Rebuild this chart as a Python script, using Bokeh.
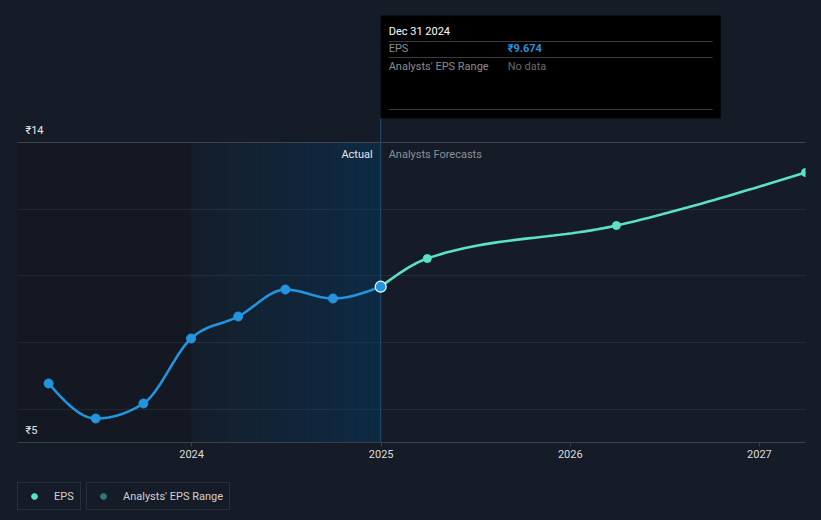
import numpy as np
import pandas as pd
from bokeh.plotting import figure
from bokeh.models import Range1d, FixedTicker, DatetimeTickFormatter, Legend, LegendItem, Span
from bokeh.core.properties import value
from bokeh.embed import file_html
from bokeh.resources import INLINE

# ---------------- data ----------------
actual_dates = ["2023-03-31", "2023-06-30", "2023-09-30", "2023-12-31",
                "2024-03-31", "2024-06-30", "2024-09-30", "2024-12-31"]
actual_eps = [6.77, 5.72, 6.17, 8.12, 8.78, 9.59, 9.32, 9.674]
forecast_dates = ["2024-12-31", "2025-03-31", "2026-03-31", "2027-03-31"]
forecast_eps = [9.674, 10.52, 11.51, 13.10]
year_ticks = ["2024-01-01", "2025-01-01", "2026-01-01", "2027-01-01"]
grid_values = [6, 8, 10, 12, 14]
y_label_texts = ["₹14", "₹5"]
tooltip_date = "Dec 31 2024"
tooltip_rows = ["EPS", "Analysts' EPS Range"]
tooltip_vals = ["₹9.674", "No data"]

BG = "#161c27"
BLUE = "#2394df"
TEAL = "#5ae1c6"
FONT = "Roboto"

def ms(d):
    return pd.Timestamp(d).value / 1e6

ax = np.array([ms(d) for d in actual_dates])
fx = np.array([ms(d) for d in forecast_dates])

W, H = 821, 520
FL, FR = 17, 805
x_start = ms("2023-01-30")
x_end = ms("2027-03-31")
px = (x_end - x_start) / (FR - FL)

# page pixel -> data y (5 at y=442, 14 at y=142 in the page)
y_per_px = 9 / 300.0
def py2y(py):
    return 14 + (142 - py) * y_per_px
y_top = py2y(0)
y_bot = py2y(H)


def monotone(xs, ys, n=30):
    xs = np.asarray(xs, float)
    ys = np.asarray(ys, float)
    x0 = xs[0]
    X = (xs - x0) / 8.64e7
    h = np.diff(X)
    s = np.diff(ys) / h
    m = np.zeros_like(X)
    for i in range(1, len(X) - 1):
        s0, s1 = s[i - 1], s[i]
        p_ = (s0 * h[i] + s1 * h[i - 1]) / (h[i - 1] + h[i])
        m[i] = (np.sign(s0) + np.sign(s1)) * min(abs(s0), abs(s1), 0.5 * abs(p_))
    if len(X) > 2:
        m[0] = (3 * s[0] - m[1]) / 2
        m[-1] = (3 * s[-1] - m[-2]) / 2
    else:
        m[0] = m[-1] = s[0]
    outx, outy = [], []
    for i in range(len(X) - 1):
        t = np.linspace(0, 1, n, endpoint=(i == len(X) - 2))
        h00 = 2 * t**3 - 3 * t**2 + 1
        h10 = t**3 - 2 * t**2 + t
        h01 = -2 * t**3 + 3 * t**2
        h11 = t**3 - t**2
        yy = h00 * ys[i] + h10 * h[i] * m[i] + h01 * ys[i + 1] + h11 * h[i] * m[i + 1]
        xx = X[i] + t * h[i]
        outx.extend(xx * 8.64e7 + x0)
        outy.extend(yy)
    return outx, outy


p = figure(width=W, height=H, x_axis_type="datetime",
           x_range=Range1d(x_start, x_end), y_range=Range1d(y_bot, y_top),
           output_backend="svg", toolbar_location=None,
           min_border_left=FL, min_border_right=W - FR, min_border_top=0, min_border_bottom=0)
p.background_fill_color = BG
p.border_fill_color = BG
p.outline_line_color = None

# axes
p.yaxis.visible = False
p.xaxis.fixed_location = 5
p.xaxis.ticker = FixedTicker(ticks=[ms(d) for d in year_ticks])
p.xaxis.formatter = DatetimeTickFormatter(years="%Y", months="%Y", days="%Y", hours="%Y",
                                          minutes="%Y", seconds="%Y", milliseconds="%Y")
p.xaxis.axis_line_color = "#3a404a"
p.xaxis.major_tick_line_color = "#3a404a"
p.xaxis.major_tick_in = 0
p.xaxis.major_tick_out = 4
p.xaxis.minor_tick_line_color = None
p.xaxis.major_label_text_color = "#dcdcdc"
p.xaxis.major_label_text_font = FONT
p.xaxis.major_label_text_font_size = "11px"
p.xaxis.major_label_standoff = 3

p.xgrid.visible = False
p.ygrid.ticker = FixedTicker(ticks=grid_values)
p.ygrid.grid_line_color = "#272d38"
p.ygrid.grid_line_width = 1
p.add_layout(Span(location=14, dimension="width", line_color="#3e444e", line_width=1))

# shaded regions
anchor = ax[-1]
one_year_before = ax[3]
p.quad(left=x_start, right=one_year_before, bottom=5, top=14,
       fill_color="#000000", fill_alpha=0.12, line_color=None)
n = 30
edges = np.linspace(one_year_before, anchor, n + 1)
alphas = np.linspace(0.06, 0.36, n)
p.quad(left=edges[:-1], right=edges[1:], bottom=5, top=14,
       fill_color="#004678", fill_alpha=alphas, line_color=None)

# vertical marker line
p.segment(x0=anchor, x1=anchor, y0=5, y1=py2y(118), line_color="#1f4e72", line_width=1)

# curves
cx, cy = monotone(ax, actual_eps)
p.line(cx, cy, line_color=BLUE, line_width=2.6)
fxs, fys = monotone(fx, forecast_eps)
p.line(fxs, fys, line_color=TEAL, line_width=2.6)
p.scatter(ax[:-1], actual_eps[:-1], size=9, color=BLUE)
p.scatter(fx[1:], forecast_eps[1:], size=8, color=TEAL)
p.scatter([anchor], [actual_eps[-1]], size=11, fill_color=BLUE, line_color="#ffffff", line_width=1.2)

# actual / forecast labels
p.text(x=[anchor], y=[py2y(154)], text=["Actual"], x_offset=-8,
       text_align="right", text_baseline="middle", text_color="#e6e6e6",
       text_font=value(FONT), text_font_size="11px")
p.text(x=[anchor], y=[py2y(154)], text=["Analysts Forecasts"], x_offset=8,
       text_align="left", text_baseline="middle", text_color="#8a9099",
       text_font=value(FONT), text_font_size="11px")

# y labels
p.text(x=[x_start] * 2, y=[py2y(130), py2y(430)], text=y_label_texts, x_offset=8,
       text_align="left", text_baseline="middle", text_color="#e6e6e6",
       text_font=value(FONT), text_font_size="11px")

# tooltip
p.quad(left=anchor, right=anchor + 340 * px, bottom=py2y(118), top=py2y(15),
       fill_color="#000000", line_color=None)
sep_y = [py2y(41), py2y(57), py2y(109)]
p.segment(x0=[anchor + 8 * px] * 3, x1=[anchor + 332 * px] * 3, y0=sep_y, y1=sep_y,
          line_color="#3a3a3a", line_width=1)
p.text(x=[anchor], y=[py2y(31)], text=[tooltip_date], x_offset=8,
       text_align="left", text_baseline="middle", text_color="#ffffff",
       text_font=value(FONT), text_font_size="11px")
p.text(x=[anchor] * 2, y=[py2y(48), py2y(66)], text=tooltip_rows, x_offset=8,
       text_align="left", text_baseline="middle", text_color="#8c8c8c",
       text_font=value(FONT), text_font_size="11px")
p.text(x=[anchor], y=[py2y(48)], text=[tooltip_vals[0]], x_offset=127,
       text_align="left", text_baseline="middle", text_color=BLUE,
       text_font=value(FONT), text_font_size="11px", text_font_style="bold")
p.text(x=[anchor], y=[py2y(66)], text=[tooltip_vals[1]], x_offset=127,
       text_align="left", text_baseline="middle", text_color="#6a6a6a",
       text_font=value(FONT), text_font_size="11px")

# legends (legend-only renderers, placed outside the visible range)
off = [x_start - 1e12]
lb = p.scatter(x=off, y=[10], size=14, color=BLUE)
lt = p.scatter(x=off, y=[10], size=14, color=TEAL)
rb = p.scatter(x=off, y=[10], size=14, color="#1d5a8a")
rt = p.scatter(x=off, y=[10], size=14, color="#337777")

def mk_legend(label, rends, loc):
    return Legend(items=[LegendItem(label=label, renderers=rends)], location=loc,
                  orientation="horizontal", padding=6, margin=0,
                  glyph_width=20, glyph_height=14, label_height=14, label_standoff=10,
                  label_text_font=FONT, label_text_font_size="11px", label_text_color="#d0d0d0",
                  background_fill_color=BG, background_fill_alpha=1,
                  border_line_color="#3c424c", border_line_width=1)

p.add_layout(mk_legend("EPS", [lb, lt], (0, 10)))
p.add_layout(mk_legend("Analysts' EPS Range", [rb, rt], (69, 10)))

html = file_html(p, INLINE)
html = html.replace("<body>", '<body style="background:#161c27">')
open("out.html", "w").write(html)
